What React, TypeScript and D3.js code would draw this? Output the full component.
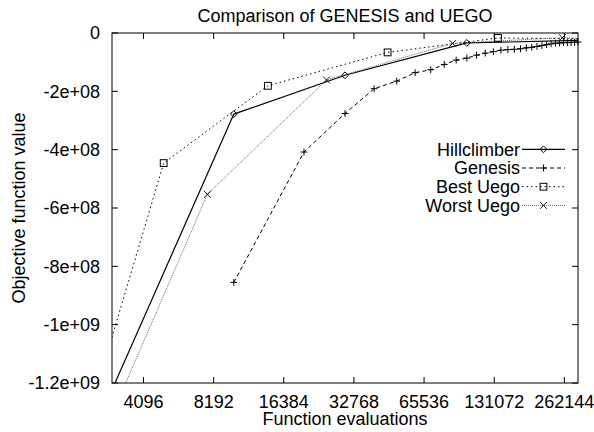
import React from "react";
import * as d3 from "d3";

const title = "Comparison of GENESIS and UEGO";
const xLabel = "Function evaluations";
const yLabel = "Objective function value";

const xTicks = [4096, 8192, 16384, 32768, 65536, 131072, 262144];
const yTicks = [0, -2e8, -4e8, -6e8, -8e8, -1e9, -1.2e9];
const yTickLabels = ["0", "-2e+08", "-4e+08", "-6e+08", "-8e+08", "-1e+09", "-1.2e+09"];

const hillX = [2048, 10000, 30000, 100000, 320000];
const hillY = [-1.523e9, -2.78e8, -1.45e8, -3.4e7, -2.5e7];

const genesisX = [10000, 20000, 30000, 40000, 50000, 60000, 70000, 80000, 90000, 100000,
  110000, 120000, 130000, 140000, 150000, 160000, 170000, 180000, 190000, 200000,
  210000, 220000, 230000, 240000, 250000, 260000, 270000, 280000, 290000, 300000];
const genesisY = [-8.55e8, -4.08e8, -2.76e8, -1.91e8, -1.65e8, -1.36e8, -1.26e8, -1.08e8, -9.3e7, -8.6e7,
  -7.6e7, -6.9e7, -6.4e7, -5.9e7, -5.7e7, -5.6e7, -5.4e7, -5.1e7, -4.9e7, -4.6e7,
  -4.3e7, -4.0e7, -3.7e7, -3.5e7, -3.4e7, -3.3e7, -3.3e7, -3.2e7, -3.2e7, -3.1e7];

const bestX = [2048, 5000, 14000, 45700, 136000, 320000];
const bestY = [-1.488e9, -4.46e8, -1.81e8, -6.65e7, -1.7e7, -2.0e7];

const worstX = [2048, 7700, 25000, 87000, 257000, 320000];
const worstY = [-1.614e9, -5.53e8, -1.61e8, -3.55e7, -1.6e7, -2.0e7];

const seriesNames = ["Hillclimber", "Genesis", "Best Uego", "Worst Uego"];

const W = 594, H = 432;
const L = 112, R = 578, T = 33, B = 383;
const FONT = "'Liberation Sans', Arial, Helvetica, sans-serif";

type Sym = "diamond" | "plus" | "square" | "cross";

function Marker({ x, y, sym, color }: { x: number; y: number; sym: Sym; color: string }) {
  const s = 3.4;
  if (sym === "diamond")
    return <path d={`M${x},${y - s}L${x + s},${y}L${x},${y + s}L${x - s},${y}Z`} fill="none" stroke={color} strokeWidth={1} />;
  if (sym === "plus")
    return <path d={`M${x - s},${y}H${x + s}M${x},${y - s}V${y + s}`} stroke={color} strokeWidth={1} />;
  if (sym === "square")
    return <rect x={x - s} y={y - s} width={2 * s} height={2 * s} fill="none" stroke={color} strokeWidth={1} />;
  return <path d={`M${x - s},${y - s}L${x + s},${y + s}M${x - s},${y + s}L${x + s},${y - s}`} stroke={color} strokeWidth={1} />;
}

export default function App() {
  const x = d3.scaleLog().base(2).domain([3000, 300000]).range([L, R]);
  const y = d3.scaleLinear().domain([-1.2e9, 0]).range([B, T]);

  const series = [
    { name: seriesNames[0], xs: hillX, ys: hillY, sym: "diamond" as Sym, color: "#000", dash: "none", sw: 1.2, mcolor: "#000" },
    { name: seriesNames[1], xs: genesisX, ys: genesisY, sym: "plus" as Sym, color: "#000", dash: "4,3", sw: 1, mcolor: "#000" },
    { name: seriesNames[2], xs: bestX, ys: bestY, sym: "square" as Sym, color: "#000", dash: "1.5,3", sw: 1, mcolor: "#000" },
    { name: seriesNames[3], xs: worstX, ys: worstY, sym: "cross" as Sym, color: "#666", dash: "1,1", sw: 1, mcolor: "#111" },
  ];

  const line = d3.line<[number, number]>().x(d => x(d[0])).y(d => y(d[1]));

  const legendTop = 149.3;
  const legendStep = 18.7;

  return (
    <svg width={W} height={H} style={{ position: "absolute", left: 0, top: 0, background: "#fff" }} fontFamily={FONT}>
      <rect x={0} y={0} width={W} height={H} fill="#fff" />
      <defs>
        <clipPath id="plotclip">
          <rect x={L} y={T} width={R - L} height={B - T} />
        </clipPath>
      </defs>

      {/* ticks */}
      {xTicks.map(t => (
        <g key={"xt" + t}>
          <line x1={x(t)} x2={x(t)} y1={B} y2={B - 6} stroke="#000" />
          <line x1={x(t)} x2={x(t)} y1={T} y2={T + 6} stroke="#000" />
          <text x={x(t)} y={408} fontSize={18} textAnchor="middle" fill="#000">{t}</text>
        </g>
      ))}
      {yTicks.map((t, i) => (
        <g key={"yt" + t}>
          <line x1={L} x2={L + 6} y1={y(t)} y2={y(t)} stroke="#000" />
          <line x1={R} x2={R - 6} y1={y(t)} y2={y(t)} stroke="#000" />
          <text x={100} y={y(t)} dy="0.35em" fontSize={18} textAnchor="end" fill="#000">{yTickLabels[i]}</text>
        </g>
      ))}

      {/* series */}
      <g clipPath="url(#plotclip)">
        {series.map(s => (
          <path key={s.name} d={line(s.xs.map((v, i) => [v, s.ys[i]] as [number, number])) || ""}
            fill="none" stroke={s.color} strokeWidth={s.sw} strokeDasharray={s.dash} />
        ))}
      </g>
      {series.map(s => (
        <g key={s.name + "m"}>
          {s.xs.map((v, i) => {
            if (v < 3000 || v > 300000 || s.ys[i] < -1.2e9) return null;
            return <Marker key={i} x={x(v)} y={y(s.ys[i])} sym={s.sym} color={s.mcolor} />;
          })}
        </g>
      ))}

      {/* border */}
      <rect x={L} y={T} width={R - L} height={B - T} fill="none" stroke="#000" strokeWidth={1} />

      {/* legend */}
      {series.map((s, i) => {
        const cy = legendTop + i * legendStep;
        return (
          <g key={s.name + "leg"}>
            <text x={520} y={cy} dy="0.35em" fontSize={18} textAnchor="end" fill="#000">{s.name}</text>
            <line x1={522} x2={565} y1={cy} y2={cy} stroke={s.color} strokeWidth={s.sw} strokeDasharray={s.dash} />
            <Marker x={543.5} y={cy} sym={s.sym} color={s.mcolor} />
          </g>
        );
      })}

      {/* titles */}
      <text x={(L + R) / 2} y={22} fontSize={18} textAnchor="middle" fill="#000">{title}</text>
      <text x={(L + R) / 2} y={425} fontSize={18} textAnchor="middle" fill="#000">{xLabel}</text>
      <text transform={`translate(25,${(T + B) / 2}) rotate(-90)`} fontSize={18} textAnchor="middle" fill="#000">{yLabel}</text>
    </svg>
  );
}
